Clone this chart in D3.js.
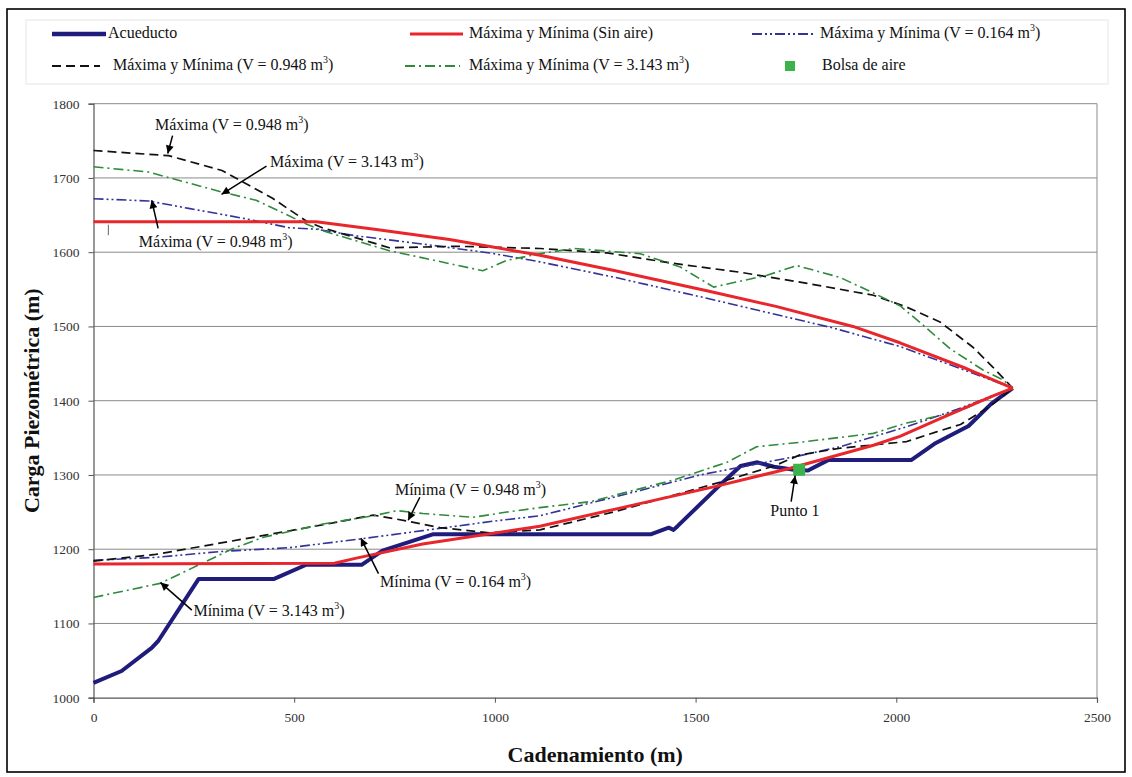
<!DOCTYPE html>
<html>
<head>
<meta charset="utf-8">
<script src="https://cdn.jsdelivr.net/npm/d3@7"></script>
<style>
  html, body { margin: 0; padding: 0; background: #fff; }
  svg { display: block; font-family: "Liberation Serif", "Times New Roman", serif; }
</style>
</head>
<body>
<svg id="chart" width="1132" height="777"></svg>
<script>
// ---------------- DATA ----------------
const xTicks = [0, 500, 1000, 1500, 2000, 2500];
const yTicks = [1000, 1100, 1200, 1300, 1400, 1500, 1600, 1700, 1800];

// Acueducto (perfil del terreno) [cadenamiento, carga]
const acueducto = [[0,1020],[70,1036],[145,1067],[162,1077],[262,1160],[450,1160],[530,1179],[668,1179],[720,1198],[845,1220],[1388,1220],[1433,1229],[1445,1226],[1455,1231],[1554,1283],[1612,1312],[1654,1317],[1695,1311],[1745,1307],[1780,1306],[1830,1320],[2037,1320],[2095,1342],[2180,1366],[2237,1396],[2290,1417]];

// Máxima y Mínima (Sin aire)
const sinAireMax = [[0,1641],[555,1641],[700,1631],[887,1617],[1112,1596],[1300,1575],[1528,1548],[1700,1527],[1892,1500],[2009,1478],[2176,1443],[2290,1417]];
const sinAireMin = [[0,1180],[600,1181],[655,1188],[820,1207],[1112,1231],[1300,1254],[1553,1285],[1736,1309],[1943,1340],[2009,1352],[2109,1376],[2235,1405],[2290,1417]];

// Máxima y Mínima (V = 0.164 m3)
const v0164Max = [[0,1672],[137,1669],[237,1659],[370,1646],[487,1633],[555,1631],[655,1622],[820,1611],[987,1599],[1112,1587],[1300,1566],[1528,1538],[1842,1498],[2009,1473],[2176,1440],[2290,1417]];
const v0164Min = [[0,1185],[155,1189],[320,1197],[487,1202],[668,1214],[820,1225],[1000,1238],[1112,1245],[1362,1279],[1511,1300],[1760,1326],[1860,1338],[2026,1365],[2150,1388],[2290,1417]];

// Máxima y Mínima (V = 0.948 m3)
const v0948Max = [[0,1737],[187,1730],[320,1710],[445,1673],[530,1642],[570,1633],[737,1606],[905,1608],[1112,1605],[1279,1599],[1444,1585],[1611,1573],[1778,1558],[1943,1542],[2026,1526],[2109,1506],[2191,1472],[2241,1445],[2290,1417]];
const v0948Min = [[0,1184],[155,1193],[408,1217],[583,1234],[697,1246],[781,1238],[863,1229],[988,1222],[1112,1226],[1295,1250],[1553,1289],[1695,1312],[1760,1327],[1860,1336],[2026,1345],[2100,1358],[2160,1368],[2233,1392],[2290,1417]];

// Máxima y Mínima (V = 3.143 m3)
const v3143Max = [[0,1715],[137,1708],[320,1681],[405,1670],[530,1638],[570,1629],[737,1602],[970,1575],[1030,1589],[1112,1598],[1196,1605],[1362,1598],[1462,1580],[1545,1553],[1678,1569],[1752,1582],[1860,1566],[1943,1545],[2009,1528],[2060,1505],[2134,1470],[2217,1441],[2266,1428],[2290,1417]];
const v3143Min = [[0,1135],[166,1154],[348,1201],[423,1216],[572,1234],[697,1245],[756,1252],[821,1248],[946,1243],[1030,1250],[1112,1256],[1237,1264],[1444,1293],[1578,1317],[1652,1338],[1760,1344],[1943,1356],[2026,1370],[2151,1385],[2290,1417]];

// Bolsa de aire
const bolsaAire = [[1758,1307]];

// Legend labels
const legendLabels = ["Acueducto", "Máxima y Mínima (Sin aire)", "Máxima y Mínima (V = 0.164 m³)",
                      "Máxima y Mínima (V = 0.948 m³)", "Máxima y Mínima (V = 3.143 m³)", "Bolsa de aire"];

// Annotations: text anchor and arrow (from -> tip), in data coordinates
const annotations = [
  {text: "Máxima (V = 0.948 m³)", at: [153,1765], from: [197,1757], to: [185,1733]},
  {text: "Máxima (V = 3.143 m³)", at: [440,1715], from: [431,1716], to: [319,1678]},
  {text: "Máxima (V = 0.948 m³)", at: [113,1607], from: [161,1632], to: [145,1670]},
  {text: "Mínima (V = 0.948 m³)", at: [751,1273], from: [813,1270], to: [784,1239]},
  {text: "Mínima (V = 0.164 m³)", at: [714,1149], from: [710,1167], to: [666,1215]},
  {text: "Mínima (V = 3.143 m³)", at: [249,1110], from: [245,1118], to: [167,1155]},
  {text: "Punto 1", at: [1686,1245], from: [1738,1264], to: [1748,1299]}
];

// ---------------- CHART ----------------
const svg = d3.select("#chart");
const L = 93.5, R = 1097, T = 103.7, B = 697.7;
const x = d3.scaleLinear().domain([0, 2500]).range([L, R]);
const y = d3.scaleLinear().domain([1000, 1800]).range([B, T]);

const C = {
  navy: "#1f1c7c", red: "#e8262b", blue: "#33339a", black: "#111", green: "#2f8a3c", sq: "#3cb34a"
};

// outer frame
svg.append("rect").attr("x", 7).attr("y", 9).attr("width", 1118).attr("height", 763)
  .attr("fill", "#fff").attr("stroke", "#000").attr("stroke-width", 1.6);

// legend box (faint)
svg.append("rect").attr("x", 26).attr("y", 20).attr("width", 1082).attr("height", 64)
  .attr("fill", "none").attr("stroke", "#e6e6e6").attr("stroke-width", 1);

function richText(g, str, px, py, size, anchor) {
  const t = g.append("text").attr("x", px).attr("y", py).attr("font-size", size)
    .attr("font-family", "Liberation Serif")
    .attr("fill", "#111").attr("text-anchor", anchor || "start");
  const parts = str.split("³");
  parts.forEach((p, i) => {
    if (i > 0) {
      t.append("tspan").attr("font-size", size * 0.62).attr("dy", -size * 0.42).text("3");
      t.append("tspan").attr("dy", size * 0.42).text(p);
    } else {
      t.append("tspan").text(p);
    }
  });
  return t;
}

// gridlines
const grid = svg.append("g");
grid.selectAll("line").data(yTicks.filter(d => d > 1000)).join("line")
  .attr("x1", L).attr("x2", R).attr("y1", d => y(d)).attr("y2", d => y(d))
  .attr("stroke", "#8a8a8a").attr("stroke-width", 1);
// plot right border
svg.append("line").attr("x1", R).attr("x2", R).attr("y1", T).attr("y2", B)
  .attr("stroke", "#8a8a8a").attr("stroke-width", 1);

// axes
const yAxis = svg.append("g").attr("transform", `translate(${L},0)`)
  .call(d3.axisLeft(y).tickValues(yTicks).tickSize(5).tickPadding(9).tickFormat(d3.format("d")));
const xAxis = svg.append("g").attr("transform", `translate(0,${B})`)
  .call(d3.axisBottom(x).tickValues(xTicks).tickSize(5).tickPadding(10).tickFormat(d3.format("d")));
[yAxis, xAxis].forEach(a => {
  a.select(".domain").attr("stroke", "#555").attr("stroke-width", 1.2);
  a.selectAll(".tick line").attr("stroke", "#555");
  a.selectAll(".tick text").attr("font-family", "Liberation Serif").attr("font-size", 13.5).attr("fill", "#333");
});

// axis titles
svg.append("text").attr("transform", `translate(34,${(T + B) / 2}) rotate(-90)`)
  .attr("text-anchor", "middle").attr("dominant-baseline", "middle").attr("font-family", "Liberation Serif")
  .attr("font-size", 22).attr("font-weight", "bold").attr("fill", "#111").text("Carga Piezométrica (m)");
svg.append("text").attr("x", (L + R) / 2).attr("y", 762).attr("font-family", "Liberation Serif")
  .attr("text-anchor", "middle").attr("font-size", 22).attr("font-weight", "bold")
  .attr("fill", "#111").text("Cadenamiento (m)");

// series
const line = d3.line().x(d => x(d[0])).y(d => y(d[1]));
const series = [
  {data: acueducto, color: C.navy, w: 4, dash: null},
  {data: v0164Max, color: C.blue, w: 1.6, dash: "10,3,2,3,2,3"},
  {data: v0164Min, color: C.blue, w: 1.6, dash: "10,3,2,3,2,3"},
  {data: v0948Max, color: C.black, w: 1.7, dash: "9,5"},
  {data: v0948Min, color: C.black, w: 1.7, dash: "9,5"},
  {data: v3143Max, color: C.green, w: 1.6, dash: "10,4,2,4"},
  {data: v3143Min, color: C.green, w: 1.6, dash: "10,4,2,4"},
  {data: sinAireMax, color: C.red, w: 3, dash: null},
  {data: sinAireMin, color: C.red, w: 3, dash: null}
];
svg.append("g").selectAll("path").data(series).join("path")
  .attr("d", d => line(d.data)).attr("fill", "none")
  .attr("stroke", d => d.color).attr("stroke-width", d => d.w)
  .attr("stroke-dasharray", d => d.dash).attr("stroke-linejoin", "round");

// air pocket marker
svg.append("g").selectAll("rect").data(bolsaAire).join("rect")
  .attr("x", d => x(d[0]) - 6).attr("y", d => y(d[1]) - 6).attr("width", 12).attr("height", 12)
  .attr("fill", C.sq);

// annotations
svg.append("defs").append("marker").attr("id", "arr").attr("viewBox", "0 0 10 10")
  .attr("refX", 10).attr("refY", 5).attr("markerWidth", 9).attr("markerHeight", 8)
  .attr("markerUnits", "userSpaceOnUse").attr("orient", "auto")
  .append("path").attr("d", "M0,0 L10,5 L0,10 Z").attr("fill", "#000");
const ann = svg.append("g");
annotations.forEach(a => {
  ann.append("line").attr("x1", x(a.from[0])).attr("y1", y(a.from[1]))
    .attr("x2", x(a.to[0])).attr("y2", y(a.to[1]))
    .attr("stroke", "#000").attr("stroke-width", 1.5).attr("marker-end", "url(#arr)");
  richText(ann, a.text, x(a.at[0]), y(a.at[1]), 16);
});
// small stray tick mark near third label
ann.append("line").attr("x1", x(37)).attr("x2", x(37)).attr("y1", y(1637)).attr("y2", y(1623))
  .attr("stroke", "#666").attr("stroke-width", 1);

// legend
const lg = svg.append("g");
const row1 = 34, row2 = 66;
const legendItems = [
  {x1: 52, x2: 106, tx: 108, y: row1, color: C.navy, w: 4.5, dash: null},
  {x1: 410, x2: 463, tx: 469, y: row1, color: C.red, w: 3, dash: null},
  {x1: 752, x2: 815, tx: 820, y: row1, color: C.blue, w: 2, dash: "10,3,2,3,2,3"},
  {x1: 52, x2: 100, tx: 113, y: row2, color: C.black, w: 2.2, dash: "9,5"},
  {x1: 405, x2: 460, tx: 469, y: row2, color: C.green, w: 2, dash: "10,4,2,4"}
];
legendItems.forEach((it, i) => {
  lg.append("line").attr("x1", it.x1).attr("x2", it.x2).attr("y1", it.y).attr("y2", it.y)
    .attr("stroke", it.color).attr("stroke-width", it.w).attr("stroke-dasharray", it.dash);
  richText(lg, legendLabels[i], it.tx, it.y + 4, 16);
});
lg.append("rect").attr("x", 785).attr("y", row2 - 5).attr("width", 10).attr("height", 10).attr("fill", C.sq);
richText(lg, legendLabels[5], 822, row2 + 4, 16);
</script>
</body>
</html>
